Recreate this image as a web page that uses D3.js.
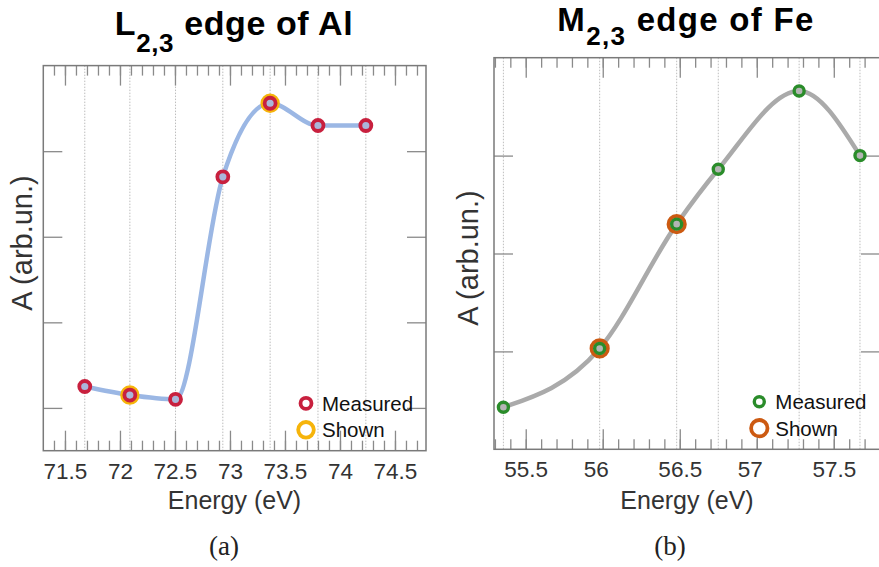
<!DOCTYPE html>
<html>
<head>
<meta charset="utf-8">
<script src="https://cdn.jsdelivr.net/npm/d3@7"></script>
<style>
  body { margin: 0; background: #fff; }
  svg { display: block; font-family: "Liberation Sans", Arial, sans-serif; }
</style>
</head>
<body>
<svg id="chart" width="879" height="567"></svg>
<script>
// Panel (a): L2,3 edge of Al
const alEnergy = [71.68, 72.09, 72.505, 72.935, 73.365, 73.8, 74.235];
const alAbs = [0.25, 0.23, 0.22, 0.74, 0.912, 0.86, 0.86];
const alShown = [72.09, 73.365];
const alTicks = [71.5, 72, 72.5, 73, 73.5, 74, 74.5];

// Panel (b): M2,3 edge of Fe
const feEnergy = [55.355, 55.98, 56.48, 56.75, 57.275, 57.67];
const feAbs = [0.43, 1.03, 2.30, 2.86, 3.66, 3.0];
const feShown = [55.98, 56.48];
const feTicks = [55.5, 56, 56.5, 57, 57.5];

const svg = d3.select('#chart');

function drawPanel(cfg) {
    const g = svg.append('g');
    const x = d3.scaleLinear().domain(cfg.xDomain).range([cfg.left, cfg.right]);
    const y = d3.scaleLinear().domain(cfg.yDomain).range([cfg.bottom, cfg.top]);
    const data = cfg.energy.map((e, i) => ({e: e, a: cfg.abs[i]}));

    // dotted grid lines at measured energies
    g.selectAll('.grid')
        .data(cfg.energy)
        .enter().append('line')
        .attr('x1', d => x(d)).attr('x2', d => x(d))
        .attr('y1', cfg.top).attr('y2', cfg.bottom)
        .attr('stroke', '#bdbdbd')
        .attr('stroke-width', 1)
        .attr('stroke-dasharray', '1.5,1.5');

    const minor = d3.range(Math.ceil(cfg.xDomain[0] * 10), Math.floor(cfg.xDomain[1] * 10) + 1).map(d => d / 10);

    // minor + major ticks, bottom and top, pointing inward
    const axes = [
        g.append('g').attr('transform', `translate(0,${cfg.bottom})`)
            .call(d3.axisBottom(x).tickValues(minor).tickSize(-10).tickFormat('')),
        g.append('g').attr('transform', `translate(0,${cfg.top})`)
            .call(d3.axisTop(x).tickValues(minor).tickSize(-10).tickFormat('')),
        g.append('g').attr('transform', `translate(0,${cfg.top})`)
            .call(d3.axisTop(x).tickValues(cfg.ticks).tickSize(-20).tickFormat('')),
        g.append('g').attr('transform', `translate(${cfg.left},0)`)
            .call(d3.axisLeft(y).tickValues(cfg.yTicks).tickSize(-19).tickFormat('')),
        g.append('g').attr('transform', `translate(${cfg.right},0)`)
            .call(d3.axisRight(y).tickValues(cfg.yTicks).tickSize(-19).tickFormat(''))
    ];
    const xAxis = g.append('g').attr('transform', `translate(0,${cfg.bottom})`)
        .call(d3.axisBottom(x).tickValues(cfg.ticks).tickSize(-20).tickPadding(12).tickFormat(d3.format('')));
    axes.push(xAxis);
    axes.forEach(a => {
        a.select('.domain').remove();
        a.selectAll('line').attr('stroke', '#8a8a8a').attr('stroke-width', 1.3);
    });
    xAxis.selectAll('text')
        .attr('fill', '#333')
        .style('font-size', '22.5px')
        .attr('dx', d => (cfg.intShift && Number.isInteger(d)) ? cfg.intShift : 0);

    // frame
    g.append('rect')
        .attr('x', cfg.left).attr('y', cfg.top)
        .attr('width', cfg.right - cfg.left).attr('height', cfg.bottom - cfg.top)
        .attr('fill', 'none').attr('stroke', '#7a7a7a').attr('stroke-width', 1.5);

    // interpolated curve
    g.append('path')
        .datum(data)
        .attr('fill', 'none')
        .attr('stroke', cfg.lineColor)
        .attr('stroke-width', 4.5)
        .attr('d', d3.line().x(d => x(d.e)).y(d => y(d.a)).curve(d3.curveMonotoneX));

    // "shown" rings underneath
    g.selectAll('.shown')
        .data(data.filter(d => cfg.shown.includes(d.e)))
        .enter().append('circle')
        .attr('cx', d => x(d.e)).attr('cy', d => y(d.a))
        .attr('r', cfg.shownR)
        .attr('fill', 'none')
        .attr('stroke', cfg.shownColor)
        .attr('stroke-width', cfg.shownW);

    // measured points
    g.selectAll('.meas')
        .data(data)
        .enter().append('circle')
        .attr('cx', d => x(d.e)).attr('cy', d => y(d.a))
        .attr('r', cfg.measR)
        .attr('fill', cfg.measFill)
        .attr('stroke', cfg.measColor)
        .attr('stroke-width', cfg.measW);

    // legend
    const lg = g.append('g').attr('transform', `translate(${cfg.legend[0]},${cfg.legend[1]})`);
    lg.append('circle').attr('cx', 0).attr('cy', 0).attr('r', cfg.measR)
        .attr('fill', '#fff').attr('stroke', cfg.measColor).attr('stroke-width', cfg.measW);
    lg.append('circle').attr('cx', 0).attr('cy', 26.5).attr('r', cfg.shownR)
        .attr('fill', '#fff').attr('stroke', cfg.shownColor).attr('stroke-width', cfg.shownW);
    lg.append('text').attr('x', 16).attr('y', 7.5).text('Measured')
        .style('font-size', '20.5px').attr('fill', '#111');
    lg.append('text').attr('x', 16).attr('y', 34).text('Shown')
        .style('font-size', '20.5px').attr('fill', '#111');

    // axis titles
    g.append('text')
        .attr('x', cfg.xLabel[0]).attr('y', cfg.xLabel[1])
        .attr('text-anchor', 'middle')
        .style('font-size', '25px').attr('fill', '#333')
        .text('Energy (eV)');
    g.append('text')
        .attr('transform', `translate(${cfg.yLabel[0]},${cfg.yLabel[1]}) rotate(-90)`)
        .attr('text-anchor', 'middle')
        .style('font-size', '29px').attr('fill', '#333')
        .text('A (arb.un.)');

    // title with subscript
    const t = g.append('text')
        .attr('x', cfg.title[0]).attr('y', cfg.title[1])
        .attr('text-anchor', 'middle')
        .style('font-size', cfg.titleSize).style('font-weight', 'bold')
        .style('letter-spacing', cfg.titleSpacing)
        .attr('fill', '#000');
    t.append('tspan').text(cfg.titleMain);
    t.append('tspan').attr('dy', cfg.subDy).style('font-size', '26px').text('2,3');
    t.append('tspan').attr('dy', -cfg.subDy).text(' ' + cfg.titleRest);

    // caption
    g.append('text')
        .attr('x', cfg.caption[0]).attr('y', cfg.caption[1])
        .attr('text-anchor', 'middle')
        .style('font-family', '"Liberation Serif", "DejaVu Serif", serif')
        .style('font-size', '27px').attr('fill', '#222')
        .text(cfg.captionText);
}

drawPanel({
    energy: alEnergy, abs: alAbs, shown: alShown, ticks: alTicks,
    xDomain: [71.303, 74.782], yDomain: [0.1, 1.0], yTicks: [0.2, 0.4, 0.6, 0.8],
    left: 43.3, right: 426, top: 65.6, bottom: 450.7,
    lineColor: '#9bb7e4',
    measColor: '#c8203e', measFill: '#aab7da', measR: 5.5, measW: 3.8,
    shownColor: '#f6b40a', shownR: 7.8, shownW: 3.8,
    legend: [306, 403.3],
    xLabel: [234.5, 509], yLabel: [32, 243],
    title: [234, 35], titleSize: '34px', titleMain: 'L', titleRest: 'edge of Al', titleSpacing: '0.6px', subDy: 16.5,
    caption: [224, 555], captionText: '(a)'
});

drawPanel({
    energy: feEnergy, abs: feAbs, shown: feShown, ticks: feTicks,
    xDomain: [55.294, 57.8], yDomain: [0, 4], yTicks: [1, 2, 3],
    left: 494, right: 880, top: 57.7, bottom: 449.3,
    lineColor: '#aaaaaa',
    measColor: '#2a8c2a', measFill: '#b4b4b4', measR: 5, measW: 3.4,
    shownColor: '#cc5a12', shownR: 8.2, shownW: 3.8,
    legend: [759.3, 401.7],
    xLabel: [687, 509], yLabel: [478, 258],
    title: [686, 31], titleSize: '33px', titleMain: 'M', titleRest: 'edge of Fe', titleSpacing: '1.3px', subDy: 14,
    caption: [670, 555], captionText: '(b)',
    intShift: -7
});
</script>
</body>
</html>
